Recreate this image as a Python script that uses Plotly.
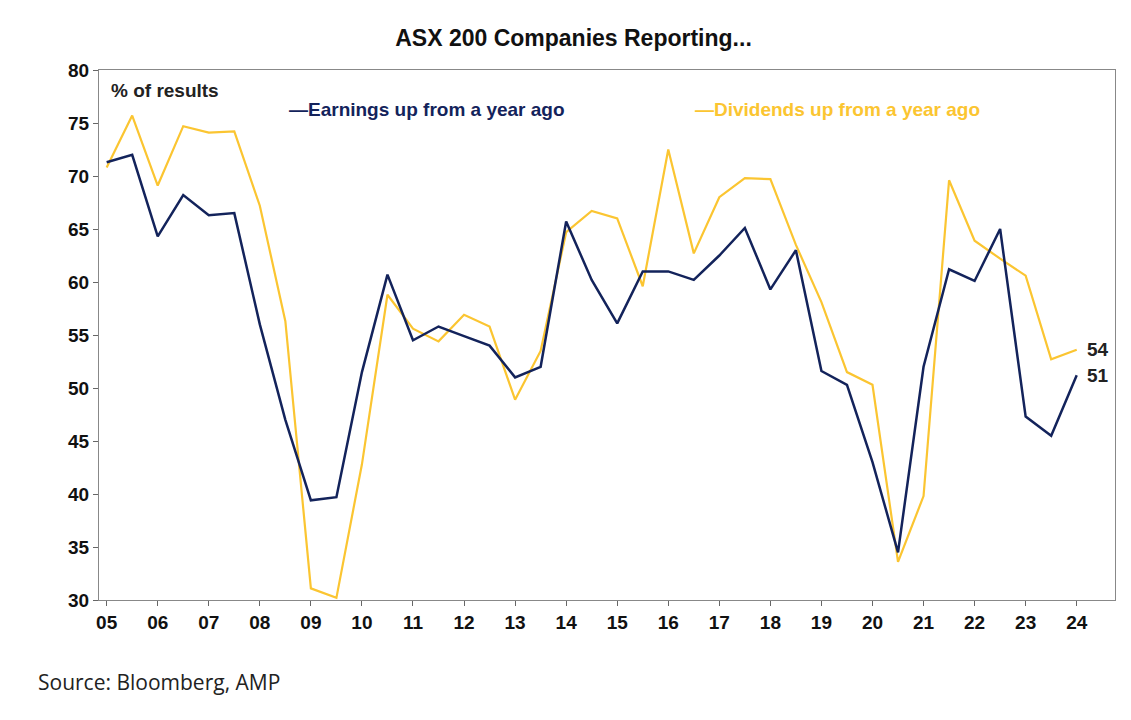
import plotly.graph_objects as go

years = [2005 + 0.5 * i for i in range(39)]
earnings = [71.3, 72, 64.3, 68.2, 66.3, 66.5, 56, 47, 39.4, 39.7, 51.5, 60.7, 54.5, 55.8, 54.9, 54, 51, 52,
            65.7, 60.2, 56.1, 61, 61, 60.2, 62.5, 65.1, 59.3, 63, 51.6, 50.3, 43, 34.5, 52, 61.2, 60.1, 65,
            47.3, 45.5, 51.2]
dividends = [70.8, 75.7, 69.1, 74.7, 74.1, 74.2, 67.2, 56.3, 31.1, 30.2, 42.8, 58.8, 55.6, 54.4, 56.9, 55.8,
             48.9, 53.5, 64.7, 66.7, 66, 59.6, 72.5, 62.7, 68, 69.8, 69.7, 63.5, 58.1, 51.5, 50.3, 33.6, 39.8,
             69.6, 63.9, 62.2, 60.6, 52.7, 53.6]
tick_years = list(range(2005, 2025))
tick_labels = ["%02d" % (y % 100) for y in tick_years]

navy = "#13235b"
gold = "#fbc531"
font = "Liberation Sans, Arial"

fig = go.Figure()
fig.add_trace(go.Scatter(x=years, y=dividends, mode="lines", line=dict(color=gold, width=2.2), name="Dividends up from a year ago"))
fig.add_trace(go.Scatter(x=years, y=earnings, mode="lines", line=dict(color=navy, width=2.5), name="Earnings up from a year ago"))

fig.add_annotation(x=years[-1], y=dividends[-1], text="<b>54</b>", xanchor="left", xshift=8, showarrow=False,
                   font=dict(size=19, color="#222"))
fig.add_annotation(x=years[-1], y=earnings[-1], text="<b>51</b>", xanchor="left", xshift=8, showarrow=False,
                   font=dict(size=19, color="#222"))
fig.add_annotation(xref="paper", yref="paper", x=0.01, y=0.985, text="<b>% of results</b>", showarrow=False,
                   xanchor="left", yanchor="top", font=dict(size=19, color="#222"))
fig.add_annotation(xref="paper", yref="paper", x=0.185, y=0.95, text="<b>—Earnings up from a year ago</b>", showarrow=False,
                   xanchor="left", yanchor="top", font=dict(size=19, color=navy))
fig.add_annotation(xref="paper", yref="paper", x=0.585, y=0.95, text="<b>—Dividends up from a year ago</b>", showarrow=False,
                   xanchor="left", yanchor="top", font=dict(size=19, color=gold))
fig.add_annotation(xref="paper", yref="paper", x=-0.062, y=-0.125, text="Source: Bloomberg, AMP", showarrow=False,
                   xanchor="left", yanchor="top", font=dict(size=21, color="#222", family="Open Sans"))

fig.update_layout(
    width=1131, height=720, showlegend=False,
    paper_bgcolor="white", plot_bgcolor="white",
    margin=dict(l=91, r=24, t=62, b=128),
    title=dict(text="<b>ASX 200 Companies Reporting...</b>", x=0.5, y=0.97, xanchor="center",
               font=dict(size=23, color="#111", family=font)),
    font=dict(family=font, color="#111"),
    xaxis=dict(range=[2004.85, 2024.75], tickvals=tick_years, ticktext=tick_labels, showgrid=False,
               ticks="outside", ticklen=5, tickcolor="#666", showline=True, linecolor="#888", mirror=True,
               tickfont=dict(size=19, weight="bold"), zeroline=False),
    yaxis=dict(range=[30, 80], dtick=5, showgrid=False, ticks="outside", ticklen=5, tickcolor="#666",
               showline=True, linecolor="#888", mirror=True, tickfont=dict(size=19, weight="bold"), zeroline=False),
)
fig.write_html("out.html")
